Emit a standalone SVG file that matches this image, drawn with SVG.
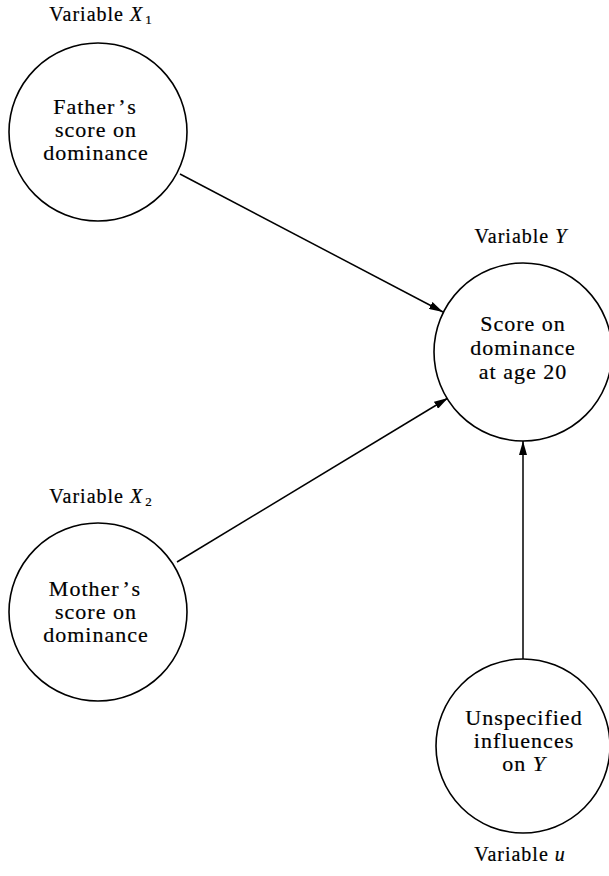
<svg xmlns="http://www.w3.org/2000/svg" width="609" height="876" viewBox="0 0 609 876">
<style>
.node circle{fill:#fff;stroke:#000;stroke-width:1.6}
.t{font-family:"Liberation Serif","Times New Roman",serif;font-size:22px;letter-spacing:1px;text-anchor:middle;fill:#000;stroke:#000;stroke-width:0.2}
.lab{font-family:"Liberation Serif","Times New Roman",serif;font-size:20px;letter-spacing:1px;text-anchor:middle;fill:#000;stroke:#000;stroke-width:0.2}
.it{font-style:italic}
.sub{font-size:13px}
.edge{stroke:#000;stroke-width:1.5;fill:none;marker-end:url(#ah)}
</style>
<defs>
<marker id="ah" viewBox="0 0 14 8" refX="14" refY="4" markerWidth="14" markerHeight="8" markerUnits="userSpaceOnUse" orient="auto">
<path d="M0,0 L14,4 L0,8 Z" fill="#000"/>
</marker>
</defs>
<g id="connectors">
<line class="edge" x1="180" y1="174" x2="443" y2="312"/>
<line class="edge" x1="177" y1="562" x2="448" y2="398"/>
<line class="edge" x1="523" y1="659" x2="523" y2="441"/>
</g>
<g id="x1" class="node">
<text class="lab" x="101" y="21">Variable <tspan class="it">X</tspan><tspan class="sub" dx="2" dy="3">1</tspan></text>
<circle cx="98" cy="132" r="89"/>
<text class="t" x="95" y="114">Father<tspan dx="2">’</tspan><tspan dx="2">s</tspan></text>
<text class="t" x="96" y="137">score on</text>
<text class="t" x="96" y="160">dominance</text>
</g>
<g id="y" class="node">
<text class="lab" x="521" y="243">Variable <tspan class="it">Y</tspan></text>
<circle cx="523" cy="352" r="89"/>
<text class="t" x="523" y="331">Score on</text>
<text class="t" x="523" y="355">dominance</text>
<text class="t" x="523" y="379">at age 20</text>
</g>
<g id="x2" class="node">
<text class="lab" x="101" y="503">Variable <tspan class="it">X</tspan><tspan class="sub" dx="2" dy="3">2</tspan></text>
<circle cx="98" cy="612" r="89"/>
<text class="t" x="95" y="596">Mother<tspan dx="2">’</tspan><tspan dx="2">s</tspan></text>
<text class="t" x="96" y="619">score on</text>
<text class="t" x="96" y="642">dominance</text>
</g>
<g id="u" class="node">
<circle cx="523" cy="746" r="87"/>
<text class="t" x="524" y="725">Unspecified</text>
<text class="t" x="524" y="748">influences</text>
<text class="t" x="524" y="771">on <tspan class="it">Y</tspan></text>
<text class="lab" x="520" y="861">Variable <tspan class="it">u</tspan></text>
</g>
</svg>
